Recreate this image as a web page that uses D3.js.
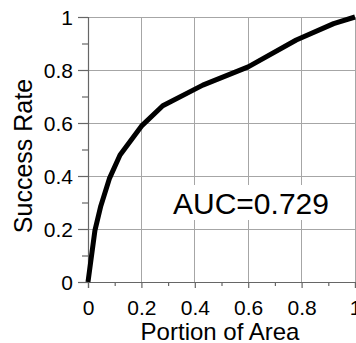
<!DOCTYPE html>
<html><head><meta charset="utf-8">
<script src="https://cdn.jsdelivr.net/npm/d3@7"></script>
<style>body{margin:0;background:#fff}svg{display:block}text{font-family:"Liberation Sans",Arial,sans-serif;fill:#000}</style>
</head><body>
<svg id="c" width="356" height="343"></svg>
<script>
const portion = [0, 0.026, 0.048, 0.08, 0.12, 0.2, 0.28, 0.43, 0.6, 0.78, 0.92, 1];
const success = [0, 0.195, 0.287, 0.39, 0.479, 0.588, 0.665, 0.743, 0.812, 0.913, 0.975, 1];
const majorTicks = [0, 0.2, 0.4, 0.6, 0.8, 1];
const tickLabels = ["0", "0.2", "0.4", "0.6", "0.8", "1"];
const minorTicks = [0.1, 0.3, 0.5, 0.7, 0.9];
const xTitle = "Portion of Area";
const yTitle = "Success Rate";
const aucLabel = "AUC=0.729";

const svg = d3.select("#c");
const L = 88, R = 355, T = 17, B = 282;
const x = d3.scaleLinear().domain([0, 1]).range([L, R]);
const y = d3.scaleLinear().domain([0, 1]).range([B, T]);
const gridColor = "#a6a6a6", axisColor = "#666";

// grid
svg.append("g").selectAll("line").data(majorTicks.slice(1)).join("line")
  .attr("x1", d => x(d)).attr("x2", d => x(d)).attr("y1", T).attr("y2", B)
  .attr("stroke", gridColor).attr("stroke-width", 1).attr("shape-rendering", "crispEdges");
svg.append("g").selectAll("line").data(majorTicks.slice(1)).join("line")
  .attr("y1", d => y(d)).attr("y2", d => y(d)).attr("x1", L).attr("x2", R)
  .attr("stroke", gridColor).attr("stroke-width", 1).attr("shape-rendering", "crispEdges");

// axes
const xAxis = d3.axisBottom(x).tickValues(majorTicks).tickFormat((d, i) => tickLabels[i]).tickSize(6).tickPadding(12);
const yAxis = d3.axisLeft(y).tickValues(majorTicks).tickFormat((d, i) => tickLabels[i]).tickSize(10).tickPadding(5);
const gx = svg.append("g").attr("transform", `translate(0,${B})`).call(xAxis);
const gy = svg.append("g").attr("transform", `translate(${L},0)`).call(yAxis);
svg.append("g").attr("transform", `translate(0,${B})`)
  .call(d3.axisBottom(x).tickValues(minorTicks).tickFormat("").tickSize(4)).select(".domain").remove();
svg.append("g").attr("transform", `translate(${L},0)`)
  .call(d3.axisLeft(y).tickValues(minorTicks).tickFormat("").tickSize(6)).select(".domain").remove();
svg.selectAll(".domain").attr("stroke", axisColor).attr("stroke-width", 1.2);
svg.selectAll(".tick line").attr("stroke", axisColor).attr("stroke-width", 1.2);
svg.selectAll(".tick text").attr("font-size", 21).attr("font-family", '"Liberation Sans",Arial,sans-serif').attr("fill", "#000");
gy.selectAll(".tick text").attr("dy", "0.36em");

// AUC label box
const aucG = svg.append("g");
aucG.append("rect").attr("x", x(0.3)).attr("y", 185).attr("width", R - x(0.3) - 1).attr("height", 35).attr("fill", "#fff");
aucG.append("text").attr("x", 173).attr("y", 213.5).attr("font-size", 30).text(aucLabel);

// curve
const pts = portion.map((p, i) => [p, success[i]]);
svg.append("path").datum(pts)
  .attr("d", d3.line().x(d => x(d[0])).y(d => y(d[1])))
  .attr("fill", "none").attr("stroke", "#000").attr("stroke-width", 5).attr("stroke-linejoin", "round");

// titles
svg.append("text").attr("x", 220).attr("y", 340).attr("text-anchor", "middle").attr("font-size", 24).text(xTitle);
svg.append("text").attr("transform", "translate(32,156) rotate(-90)").attr("text-anchor", "middle").attr("font-size", 25).text(yTitle);
</script>
</body></html>
